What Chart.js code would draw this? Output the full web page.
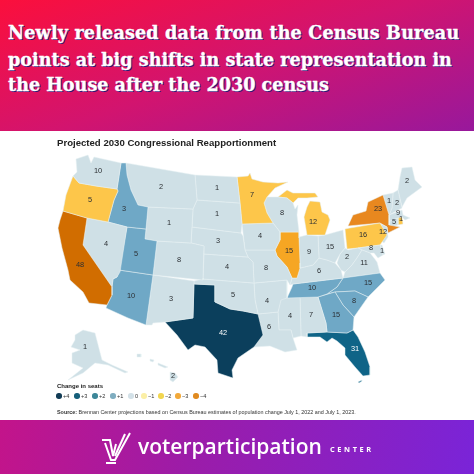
<!DOCTYPE html>
<html>
<head>
<meta charset="utf-8">
<title>Projected 2030 Congressional Reapportionment</title>
<script src="https://cdn.jsdelivr.net/npm/chart.js@4"></script>
<style>
  html, body { margin: 0; padding: 0; background: #fff; }
  #page { position: relative; width: 474px; height: 474px; overflow: hidden; font-family: "Liberation Sans", sans-serif; }
  #head { position: absolute; left: 0; top: 0; width: 474px; height: 131px; background: linear-gradient(160deg, #fb0f3c 0%, #d2146f 50%, #98189c 100%); }
  #head div { position: absolute; left: 8px; color: #fff; font: bold 17.6px "DejaVu Serif", serif; white-space: nowrap; text-shadow: 1px 1px 0 #2b1a78; -webkit-text-stroke: 0.3px #fff; }
  #map { position: absolute; left: 0; top: 131px; }
  #mapTitle { position: absolute; left: 57px; top: 137px; font: bold 9.6px "Liberation Sans", sans-serif; color: #222; white-space: nowrap; }
  #legendTitle { position: absolute; left: 57px; top: 383px; font: bold 6px "Liberation Sans", sans-serif; color: #222; }
  .key { position: absolute; top: 392px; height: 8px; font: 5.6px/8px "Liberation Sans", sans-serif; color: #333; white-space: nowrap; }
  .key i { display: inline-block; width: 5.5px; height: 5.5px; border-radius: 50%; margin-right: 1.5px; vertical-align: -0.5px; }
  #source { position: absolute; left: 57px; top: 409px; font: 5.4px "Liberation Sans", sans-serif; color: #333; white-space: nowrap; }
  #foot { position: absolute; left: 0; top: 420px; width: 474px; height: 54px; background: linear-gradient(100deg, #c3148a 0%, #9c1ca8 40%, #7a24d8 100%); }
  #logo { position: absolute; left: 101px; top: 12px; }
  #brand { position: absolute; left: 138px; top: 12px; color: #fff; font: 600 21px "Open Sans", sans-serif; white-space: nowrap; }
  #center { position: absolute; left: 330px; top: 24px; color: #fff; font: bold 7.4px "Open Sans", sans-serif; letter-spacing: 2.6px; white-space: nowrap; }
</style>
</head>
<body>
<div id="page">
  <div id="head">
    <div style="top:22px;letter-spacing:0.16px">Newly released data from the Census Bureau</div>
    <div style="top:49px">points at big shifts in state representation in</div>
    <div style="top:74px">the House after the 2030 census</div>
  </div>
  <canvas id="map" width="474" height="289"></canvas>
  <div id="mapTitle">Projected 2030 Congressional Reapportionment</div>
  <div id="legendTitle">Change in seats</div>
  <div id="legend"></div>
  <div id="source"><b>Source:</b> Brennan Center projections based on Census Bureau estimates of population change July 1, 2022 and July 1, 2023.</div>
  <div id="foot">
    <svg id="logo" width="30" height="32" viewBox="0 0 30 32" fill="none" stroke="#fff" stroke-width="2">
      <path d="M1 8 L9 8 L12 24 L15 12"/>
      <path d="M4 11 L10 28 L14 28 L29 1"/>
      <path d="M14 24 L24 2"/>
      <path d="M5 31 L15 31"/>
    </svg>
    <div id="brand">voterparticipation</div>
    <div id="center">CENTER</div>
  </div>
</div>

<script>
const stateNames = ['WA','OR','CA','NV','ID','UT','AZ','MT','WY','CO','NM','ND','SD','NE','KS','OK','TX','MN','IA','MO','AR','LA','WI','IL','MI-U','MI','IN','OH','KY','TN','MS','AL','GA','FL','SC','NC','VA','WV','MD','DE','PA','NJ','NY','CT','RI','MA','VT','NH','ME','AK','HI','HI-1','HI-2','HI-3','FL-K'];

const seatCounts = [10,5,48,4,3,5,10,2,1,8,3,1,1,3,4,5,42,7,4,8,4,6,8,15,null,12,9,15,6,10,4,7,15,31,8,15,11,2,8,1,16,12,23,5,1,9,1,2,2,1,2,null,null,null,null];

const seatChanges = [0,-1,-4,0,1,1,1,0,0,0,0,0,0,0,0,0,4,-1,0,0,0,0,0,-2,-1,-1,0,0,0,1,0,0,1,3,1,1,0,0,0,0,-1,0,-3,0,-1,0,0,0,0,0,0,0,0,0,3];

// where each number sits on the map, same units as the outlines
const labelSpots = [[98,171],[90,200],[80,265],[106,244],[124,209],[136,254],[131,296],[161,187],[169,223],[179,260],[171,299],[217,188],[217,214],[218,241],[227,267],[233,295],[223,333],[252,195],[260,236],[266,268],[267,301],[269,327],[282,213],[289,251],null,[313,222],[309,252],[330,247],[319,271],[312,288],[290,316],[311,315],[336,315],[355,349],[354,301],[368,283],[364,263],[347,257],[371,248],[382,251],[363,235],[383,232],[378,209],[394,222],[401,219],[398,213],[389,201],[397,203],[407,181],[85,347],[173,376],null,null,null,null];

// state outlines
const stateOutlines = [
  [[76,159],[88,155],[91,163],[94,157],[121,163],[117,189],[96,186],[79,183],[73,176],[77,172]],
  [[73,176],[79,183],[96,186],[117,189],[118,191],[114,200],[108,222],[87,218],[63,211],[66,195]],
  [[63,211],[87,218],[83,245],[112,287],[112,295],[107,305],[89,303],[83,292],[70,280],[68,270],[62,248],[58,228],[60,220]],
  [[87,218],[108,222],[127,227],[120,272],[117,277],[113,279],[112,287],[83,245]],
  [[121,163],[126,163],[127,175],[131,190],[138,205],[148,207],[146,229],[127,227],[108,222],[114,200],[118,191],[117,189]],
  [[127,227],[146,229],[145,239],[157,241],[153,275],[119,270]],
  [[119,270],[153,275],[146,325],[128,318],[106,308],[107,305],[112,295],[112,287],[113,279],[117,277]],
  [[126,163],[195,175],[197,200],[193,209],[148,207],[138,205],[131,190],[127,175]],
  [[148,207],[193,209],[191,243],[157,241],[145,239],[146,229]],
  [[157,241],[191,243],[204,246],[203,278],[203,280],[153,275]],
  [[153,275],[194,281],[193,318],[165,322],[153,323],[152,325],[146,325]],
  [[195,175],[237,177],[240,203],[197,200]],
  [[197,200],[240,203],[242,224],[241,233],[192,227],[193,209]],
  [[192,227],[241,233],[243,236],[245,250],[248,257],[204,254],[204,246],[191,243]],
  [[204,254],[248,257],[253,262],[254,283],[203,279]],
  [[194,281],[203,279],[254,283],[255,300],[258,314],[243,311],[230,309],[215,302],[215,285],[194,284]],
  [[194,284],[215,285],[215,302],[230,309],[243,311],[258,314],[263,335],[254,347],[238,358],[232,370],[233,378],[218,373],[217,360],[205,347],[195,345],[188,350],[177,335],[165,322],[193,318]],
  [[237,177],[248,176],[250,173],[252,179],[263,182],[278,183],[288,182],[275,188],[267,197],[264,203],[267,213],[273,223],[242,224],[240,203]],
  [[242,224],[273,223],[280,232],[280,240],[275,250],[245,250]],
  [[245,250],[275,250],[277,256],[287,267],[292,278],[290,285],[287,280],[254,283],[253,262],[248,257]],
  [[254,283],[287,280],[287,298],[281,300],[278,312],[258,314],[255,300]],
  [[258,314],[278,312],[279,330],[291,330],[293,338],[297,350],[285,352],[270,346],[254,347],[263,335]],
  [[267,197],[278,197],[287,198],[293,203],[295,209],[298,205],[297,215],[299,232],[280,232],[273,223],[267,213],[264,203]],
  [[280,232],[299,232],[299,238],[300,263],[300,268],[297,278],[292,278],[287,267],[277,256],[275,250],[280,240]],
  [[278,197],[287,190],[293,193],[300,193],[315,193],[318,197],[307,198],[298,198],[293,203],[287,198]],
  [[310,201],[320,202],[322,212],[328,215],[330,220],[325,235],[307,235],[304,217],[307,207]],
  [[299,237],[307,235],[318,236],[319,258],[313,265],[300,268],[300,263]],
  [[318,236],[325,235],[343,230],[345,248],[340,254],[335,263],[327,260],[319,258]],
  [[300,268],[313,265],[319,258],[327,260],[335,263],[341,270],[343,278],[293,284],[290,285],[292,278],[297,278]],
  [[287,298],[292,287],[293,284],[343,278],[337,287],[327,294],[318,297]],
  [[281,298],[300,297],[301,336],[293,338],[291,330],[279,330],[278,312]],
  [[300,297],[318,297],[326,323],[327,332],[307,333],[307,337],[301,336]],
  [[318,297],[335,292],[343,305],[354,317],[353,330],[347,333],[327,332],[326,323]],
  [[307,333],[327,332],[347,333],[353,330],[358,337],[365,352],[370,367],[370,375],[363,376],[355,367],[345,355],[345,348],[337,341],[332,338],[327,342],[320,337],[307,337]],
  [[335,292],[355,291],[368,297],[354,317],[343,305]],
  [[343,278],[380,273],[385,280],[368,297],[355,291],[335,292],[327,294],[337,287]],
  [[343,278],[380,273],[377,262],[374,258],[370,253],[362,250],[357,258],[352,265],[345,272]],
  [[337,263],[340,254],[345,248],[348,250],[358,248],[362,250],[357,258],[352,265],[345,272],[341,270]],
  [[358,248],[380,245],[383,255],[378,258],[374,253],[370,253],[362,250]],
  [[380,245],[382,245],[385,254],[383,255]],
  [[345,229],[350,228],[380,223],[387,235],[380,245],[358,248],[347,249]],
  [[381,224],[387,227],[388,237],[384,243],[380,240],[383,233]],
  [[348,226],[353,215],[366,211],[368,202],[383,195],[389,215],[389,225],[400,227],[388,233],[387,227],[380,223]],
  [[390,221],[398,218],[398,225],[389,228]],
  [[398,218],[402,217],[403,224],[398,225]],
  [[389,215],[402,210],[403,215],[410,218],[405,220],[402,217],[390,221]],
  [[383,195],[393,193],[392,208],[389,215]],
  [[393,193],[398,190],[402,208],[389,215],[392,208]],
  [[398,190],[400,177],[402,168],[412,167],[415,180],[422,187],[407,198],[402,207]],
  [[83,330],[95,333],[102,360],[112,365],[128,372],[125,373],[108,365],[95,363],[83,373],[68,380],[83,368],[72,363],[72,353],[80,350],[71,347],[75,340],[75,335]],
  [[170,372],[175,373],[178,377],[173,382],[170,380]],
  [[137,354],[141,354],[141,357],[137,357]],
  [[150,359],[154,360],[153,362],[150,361]],
  [[158,363],[163,365],[168,367],[165,368],[158,365]],
  [[358,382],[362,380],[362,381],[359,383]],
];

const changeColors = { 4: '#0b3f5c', 3: '#0f6487', 1: '#6fa8c6', 0: '#cfe0e6', '-1': '#fdc64a', '-2': '#f6a623', '-3': '#e8881f', '-4': '#d16d00' };

// legend swatches
const legendLabels = ['+4','+3','+2','+1','0','−1','−2','−3','−4'];
const legendColors = ['#123c55','#155f7a','#3d8799','#7fadc0','#d3e1e8','#fbefa6','#f2d650','#f2a93a','#e08a20'];
const legendLeft = [56,74,92,110,128,141,158,175,193];

const legendBox = document.querySelector('#legend');
legendLabels.forEach((label, i) => {
  const item = document.createElement('div');
  item.className = 'key';
  item.style.left = `${legendLeft[i]}px`;
  item.innerHTML = `<i style="background:${legendColors[i]}"></i>${label}`;
  legendBox.appendChild(item);
});

// seat numbers on top of the states
const seatLabels = {
  id: 'seatLabels',
  afterDatasetsDraw(chart) {
    const { ctx, scales } = chart;
    ctx.save();
    ctx.font = '7.4px "Liberation Sans", sans-serif';
    ctx.textAlign = 'center';
    ctx.textBaseline = 'middle';
    seatCounts.forEach((count, i) => {
      if (count === null) return;
      ctx.fillStyle = seatChanges[i] >= 3 ? '#fff' : '#2b2f33';
      ctx.fillText(count, scales.x.getPixelForValue(labelSpots[i][0]), scales.y.getPixelForValue(labelSpots[i][1]));
    });
    ctx.restore();
  },
};

const datasets = stateNames.map((name, i) => ({
  label: name,
  data: [...stateOutlines[i], stateOutlines[i][0]].map(([x, y]) => ({ x, y })),
  showLine: true,
  fill: 'shape',
  backgroundColor: changeColors[seatChanges[i]],
  borderColor: '#e6f0f3',
  borderWidth: 0.5,
  pointRadius: 0,
  tension: 0,
}));

new Chart(document.getElementById('map'), {
  type: 'scatter',
  data: { datasets },
  options: {
    responsive: false,
    animation: false,
    layout: { padding: 0 },
    events: [],
    plugins: { legend: { display: false }, tooltip: { enabled: false } },
    scales: {
      x: { type: 'linear', min: 0, max: 474, display: false },
      y: { type: 'linear', min: 131, max: 420, reverse: true, display: false },
    },
  },
  plugins: [seatLabels],
});
</script>
</body>
</html>
